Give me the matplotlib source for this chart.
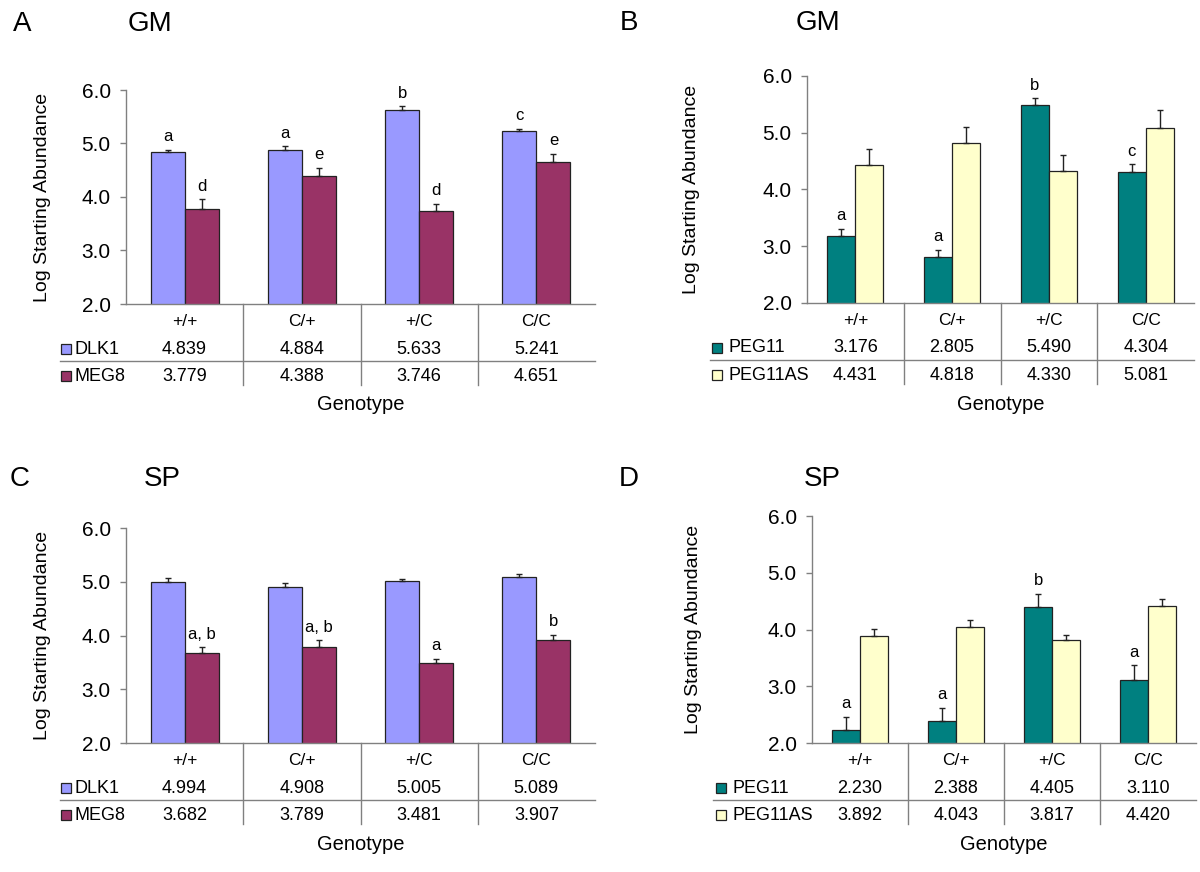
import numpy as np
import matplotlib
matplotlib.use("Agg")
import matplotlib.pyplot as plt
from matplotlib.patches import Rectangle
from matplotlib.lines import Line2D
from matplotlib.transforms import blended_transform_factory

plt.rcParams["font.family"] = ["Liberation Sans", "DejaVu Sans"]

W, H = 1200, 872

genotypes = ["+/+", "C/+", "+/C", "C/C"]

# panel A - GM
dlk1_gm = [4.839, 4.884, 5.633, 5.241]
dlk1_gm_err = [0.04, 0.06, 0.06, 0.03]
dlk1_gm_letters = ["a", "a", "b", "c"]
meg8_gm = [3.779, 4.388, 3.746, 4.651]
meg8_gm_err = [0.18, 0.16, 0.13, 0.16]
meg8_gm_letters = ["d", "e", "d", "e"]

# panel B - GM
peg11_gm = [3.176, 2.805, 5.490, 4.304]
peg11_gm_err = [0.13, 0.13, 0.12, 0.14]
peg11_gm_letters = ["a", "a", "b", "c"]
peg11as_gm = [4.431, 4.818, 4.330, 5.081]
peg11as_gm_err = [0.28, 0.28, 0.27, 0.32]
peg11as_gm_letters = ["", "", "", ""]

# panel C - SP
dlk1_sp = [4.994, 4.908, 5.005, 5.089]
dlk1_sp_err = [0.07, 0.07, 0.05, 0.06]
dlk1_sp_letters = ["", "", "", ""]
meg8_sp = [3.682, 3.789, 3.481, 3.907]
meg8_sp_err = [0.10, 0.12, 0.09, 0.11]
meg8_sp_letters = ["a, b", "a, b", "a", "b"]

# panel D - SP
peg11_sp = [2.230, 2.388, 4.405, 3.110]
peg11_sp_err = [0.23, 0.23, 0.22, 0.26]
peg11_sp_letters = ["a", "a", "b", "a"]
peg11as_sp = [3.892, 4.043, 3.817, 4.420]
peg11as_sp_err = [0.11, 0.12, 0.09, 0.11]
peg11as_sp_letters = ["", "", "", ""]

colors = {"DLK1": "#9999FF", "MEG8": "#993366", "PEG11": "#008080", "PEG11AS": "#FFFFCC"}
GRAY = "#808080"


def fx(px):
    return px / W


def fy(py):
    return 1 - py / H


fig = plt.figure(figsize=(12, 8.72), dpi=100)


def draw_panel(letter, title, rect, letter_xy, title_xy, table_x, sq_x, text_x, ylabel_x, series):
    left, top, right, bottom = rect
    ax = fig.add_axes([fx(left), fy(bottom), (right - left) / W, (bottom - top) / H])
    x = np.arange(len(genotypes))
    w = 0.29

    for i, (name, vals, err, lets) in enumerate(series):
        xs = x + (i - 0.5) * w
        ax.bar(xs, vals, width=w, color=colors[name], edgecolor="#222222", linewidth=0.9, zorder=2)
        ax.errorbar(xs, vals, yerr=[[0] * len(err), err], fmt="none", ecolor="#222222",
                    elinewidth=1, capsize=2.5, capthick=1, zorder=3)
        for xi, v, e, l in zip(xs, vals, err, lets):
            if l:
                ax.annotate(l, (xi, v + e), xytext=(0, 4), textcoords="offset points",
                            ha="center", va="bottom", fontsize=12)

    ax.set_xlim(-0.5, len(genotypes) - 0.5)
    ax.set_ylim(2, 6)
    ax.set_yticks([2, 3, 4, 5, 6])
    ax.set_yticklabels(["2.0", "3.0", "4.0", "5.0", "6.0"])
    ax.set_xticks([])
    for s in ["top", "right"]:
        ax.spines[s].set_visible(False)
    for s in ["left", "bottom"]:
        ax.spines[s].set_color(GRAY)
        ax.spines[s].set_linewidth(1)
    ax.tick_params(axis="y", length=4, width=1, color=GRAY, labelsize=15, pad=7)

    # data table under the axis
    trans = blended_transform_factory(ax.transData, fig.transFigure)
    for xi, g in zip(x, genotypes):
        ax.text(xi, fy(bottom + 17), g, transform=trans, ha="center", va="center", fontsize=12.5)
    row_offsets = [45, 72]
    for (name, vals, err, lets), off in zip(series, row_offsets):
        yy = bottom + off
        for xi, v in zip(x, vals):
            ax.text(xi, fy(yy), f"{v:.3f}", transform=trans, ha="center", va="center", fontsize=13)
        fig.add_artist(Rectangle((fx(sq_x), fy(yy + 5)), 10 / W, 10 / H, transform=fig.transFigure,
                                 facecolor=colors[name], edgecolor="#222222", linewidth=0.9))
        fig.text(fx(text_x), fy(yy), name, ha="left", va="center", fontsize=13)

    fig.add_artist(Line2D([fx(table_x), fx(right)], [fy(bottom + 57)] * 2,
                          transform=fig.transFigure, color=GRAY, linewidth=1))
    for b in x[:-1] + 0.5:
        ax.plot([b, b], [fy(bottom), fy(bottom + 81)], transform=trans, color=GRAY,
                linewidth=1, clip_on=False)

    fig.text(fx((left + right) / 2), fy(bottom + 101), "Genotype", ha="center", va="center", fontsize=14.5)
    fig.text(fx(ylabel_x), fy((top + bottom) / 2), "Log Starting Abundance", rotation=90,
             ha="center", va="center", fontsize=14)
    fig.text(fx(letter_xy[0]), fy(letter_xy[1]), letter, ha="center", va="center", fontsize=20)
    fig.text(fx(title_xy[0]), fy(title_xy[1]), title, ha="center", va="center", fontsize=20)
    return ax


draw_panel("A", "GM", (126, 90, 595, 304), (22, 24), (150, 24), 60, 61, 75, 43,
           [("DLK1", dlk1_gm, dlk1_gm_err, dlk1_gm_letters),
            ("MEG8", meg8_gm, meg8_gm_err, meg8_gm_letters)])

draw_panel("B", "GM", (807, 76, 1194, 303), (629, 23), (818, 23), 710, 712, 728, 691,
           [("PEG11", peg11_gm, peg11_gm_err, peg11_gm_letters),
            ("PEG11AS", peg11as_gm, peg11as_gm_err, peg11as_gm_letters)])

draw_panel("C", "SP", (126, 528, 595, 743), (20, 479), (162, 479), 60, 61, 75, 43,
           [("DLK1", dlk1_sp, dlk1_sp_err, dlk1_sp_letters),
            ("MEG8", meg8_sp, meg8_sp_err, meg8_sp_letters)])

draw_panel("D", "SP", (812, 516, 1196, 743), (629, 479), (822, 479), 713, 716, 732, 693,
           [("PEG11", peg11_sp, peg11_sp_err, peg11_sp_letters),
            ("PEG11AS", peg11as_sp, peg11as_sp_err, peg11as_sp_letters)])

fig.savefig("out.png", dpi=100)
